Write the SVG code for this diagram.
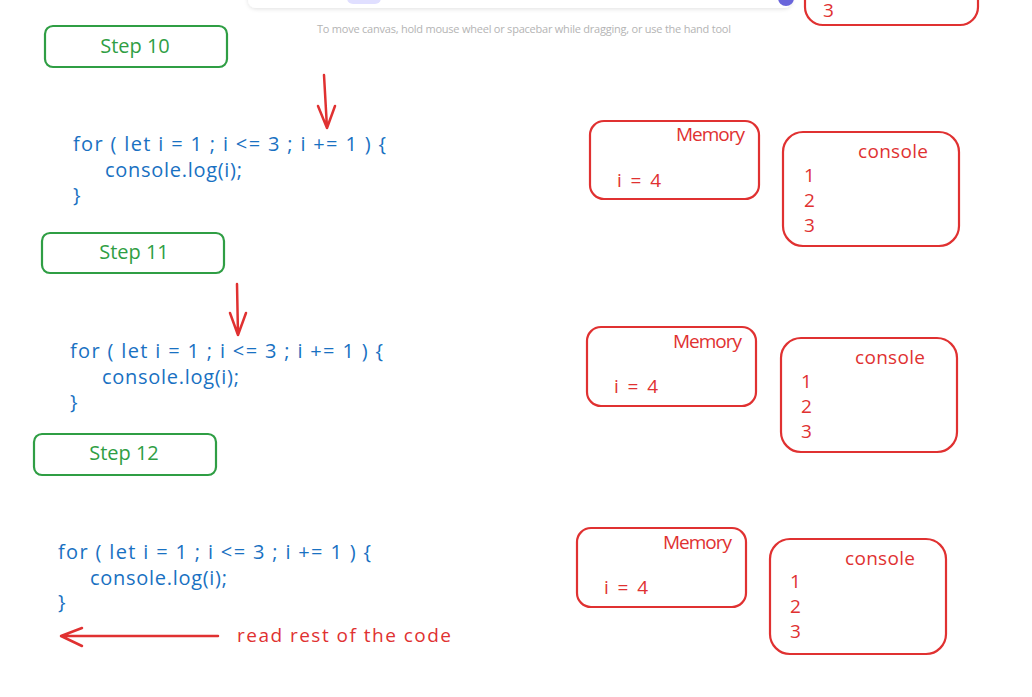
<svg xmlns="http://www.w3.org/2000/svg" width="1032" height="697" viewBox="0 0 1032 697">
<defs>
<style>
.bg{fill:#ffffff}
.step{fill:none;stroke:#2f9e44;stroke-width:2.2}
.stept{fill:#2f9e44;font-family:"Open Sans","Liberation Sans",sans-serif;font-size:20px;text-anchor:middle}
.code{fill:#1971c2;font-family:"Open Sans","Liberation Sans",sans-serif;font-size:20px}
.rbox{fill:none;stroke:#e03131;stroke-width:2.2}
.rt{fill:#e03131;font-family:"Open Sans","Liberation Sans",sans-serif;font-size:19px}
.arrow{fill:none;stroke:#e03131;stroke-width:2.5;stroke-linecap:round;stroke-linejoin:round}
.hint{fill:#b4b4b4;font-family:"Open Sans","Liberation Sans",sans-serif;font-size:11px;text-anchor:middle}
</style>
<filter id="sh" x="-10%" y="-100%" width="120%" height="300%">
<feDropShadow dx="0" dy="1" stdDeviation="2" flood-color="#000" flood-opacity="0.12"/>
</filter>
</defs>
<rect class="bg" x="0" y="0" width="1032" height="697"/>

<g id="toolbar">
<rect x="248" y="-20" width="544" height="28" rx="8" fill="#ffffff" filter="url(#sh)"/>
<rect x="347" y="-10" width="34" height="14" rx="6" fill="#e0dfff"/>
<circle cx="786" cy="-2" r="8" fill="#6965db"/>
<text class="hint" x="524" y="33" textLength="414">To move canvas, hold mouse wheel or spacebar while dragging, or use the hand tool</text>
</g>

<g id="prev-console">
<rect class="rbox" x="805" y="-40" width="173" height="65" rx="18"/>
<text class="rt" x="823" y="17" font-size="17">3</text>
</g>

<g id="step10">
<rect class="step" x="45" y="26" width="182" height="41" rx="8"/>
<text class="stept" x="135" y="53">Step 10</text>
</g>
<g id="code10">
<text class="code" x="73" y="151" textLength="313">for ( let i = 1 ; i &lt;= 3 ; i += 1 ) {</text>
<text class="code" x="105" y="177" textLength="137">console.log(i);</text>
<text class="code" x="73" y="202">}</text>
</g>
<g id="memory10">
<rect class="rbox" x="590" y="121" width="169" height="78" rx="14"/>
<text class="rt" x="676" y="141" textLength="69">Memory</text>
<text class="rt" x="617" y="187" textLength="44">i = 4</text>
</g>
<g id="console10">
<rect class="rbox" x="783" y="132" width="176" height="114" rx="20"/>
<text class="rt" x="858" y="158" textLength="70">console</text>
<text class="rt" x="804" y="182">1</text>
<text class="rt" x="804" y="207">2</text>
<text class="rt" x="804" y="232">3</text>
</g>

<g id="step11">
<rect class="step" x="42" y="233" width="182" height="40" rx="8"/>
<text class="stept" x="134" y="259">Step 11</text>
</g>
<g id="code11">
<text class="code" x="70" y="358" textLength="313">for ( let i = 1 ; i &lt;= 3 ; i += 1 ) {</text>
<text class="code" x="102" y="384" textLength="137">console.log(i);</text>
<text class="code" x="70" y="409">}</text>
</g>
<g id="memory11">
<rect class="rbox" x="587" y="327" width="169" height="79" rx="14"/>
<text class="rt" x="673" y="348" textLength="69">Memory</text>
<text class="rt" x="614" y="393" textLength="44">i = 4</text>
</g>
<g id="console11">
<rect class="rbox" x="781" y="338" width="176" height="114" rx="20"/>
<text class="rt" x="855" y="364" textLength="70">console</text>
<text class="rt" x="801" y="388">1</text>
<text class="rt" x="801" y="413">2</text>
<text class="rt" x="801" y="438">3</text>
</g>

<g id="step12">
<rect class="step" x="34" y="434" width="182" height="41" rx="8"/>
<text class="stept" x="124" y="460">Step 12</text>
</g>
<g id="code12">
<text class="code" x="58" y="559" textLength="313">for ( let i = 1 ; i &lt;= 3 ; i += 1 ) {</text>
<text class="code" x="90" y="585" textLength="137">console.log(i);</text>
<text class="code" x="58" y="609">}</text>
</g>
<g id="memory12">
<rect class="rbox" x="577" y="528" width="169" height="79" rx="14"/>
<text class="rt" x="663" y="549" textLength="69">Memory</text>
<text class="rt" x="604" y="594" textLength="44">i = 4</text>
</g>
<g id="console12">
<rect class="rbox" x="770" y="539" width="176" height="115" rx="20"/>
<text class="rt" x="845" y="565" textLength="70">console</text>
<text class="rt" x="790" y="588">1</text>
<text class="rt" x="790" y="613">2</text>
<text class="rt" x="790" y="638">3</text>
</g>
<g id="label-rest">
<text class="rt" x="237" y="642" textLength="214">read rest of the code</text>
</g>

<g id="connectors">
<path class="arrow" d="M324 75 L327 128 M318 106 L327 128 L335 106"/>
<path class="arrow" d="M237 284 L238 335 M230 313 L238 335 L246 313"/>
<path class="arrow" d="M218 636 L61 636 M82 628 L61 636 L82 646"/>
</g>
</svg>
